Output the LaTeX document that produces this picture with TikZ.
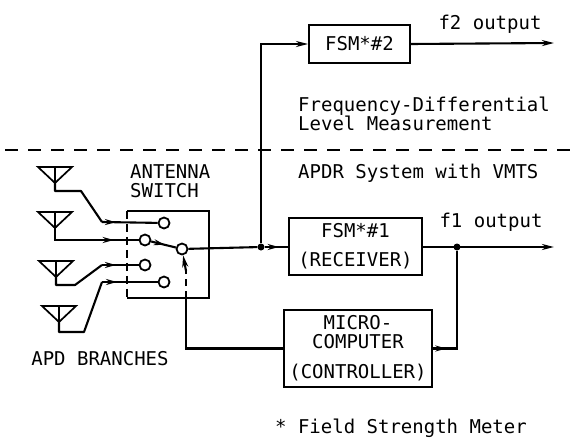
\documentclass[tikz,border=0pt]{standalone}
\usepackage{fontspec}
\setmonofont{DejaVu Sans Mono}
\usetikzlibrary{decorations.markings, arrows.meta}

\tikzset{
  wire/.style={line width=2.1pt},
  thinwire/.style={line width=1.7pt},
  label/.style={font=\ttfamily\fontsize{19}{19}\selectfont, inner sep=0pt, align=center},
  blockbox/.style={draw, line width=1.9pt, font=\ttfamily\fontsize{19}{19}\selectfont, inner sep=0pt, align=center},
  contact/.style={draw, circle, line width=1.8pt, fill=white, minimum size=11pt, inner sep=0pt},
  dot/.style={circle, fill=black, minimum size=7pt, inner sep=0pt},
  midarrow/.style={postaction=decorate, decoration={markings, mark=at position #1 with {\arrow{Stealth[length=11pt,width=6pt]}}}},
  endarrow/.style={-{Stealth[length=12pt,width=6pt]}}
}

\begin{document}
\begin{tikzpicture}[x=1pt, y=-1pt]
      \useasboundingbox (0,0) rectangle (579,439);

      % blocks
      \node[blockbox, minimum width=101pt, minimum height=38pt] (fsm2) at (359.5,44) {FSM*\#2};
      \node[blockbox, minimum width=133pt, minimum height=57pt] (fsm1) at (355.5,246.5) {FSM*\#1\\[10pt](RECEIVER)};
      \node[blockbox, minimum width=148pt, minimum height=77pt] (mc) at (358,348.5) {MICRO-\\COMPUTER\\[11pt](CONTROLLER)};

      % separating line
      \coordinate (sepl) at (5,150);
      \coordinate (sepr) at (579,150);
      \draw[thinwire, dash pattern=on 13pt off 10pt] (sepl) -- (sepr);

      % antenna switch
      \node[minimum width=82pt, minimum height=87pt, inner sep=0pt] (sw) at (168,254.5) {};
      \draw[thinwire] (sw.south west) -- (sw.south east) -- (sw.north east) -- (sw.north west);
      \draw[thinwire, dash pattern=on 8pt off 5pt] (sw.north west) -- (sw.south west);

      % antennas
      \foreach \n/\x/\y in {1/55/183, 2/55/228, 3/56/277, 4/59/322} {
        \coordinate (ant\n) at (\x,\y);
        \draw[thinwire] (ant\n) -- ++(-17,-16) -- ++(34,0) -- cycle;
        \draw[thinwire] (ant\n) -- ++(0,-16);
      }

      % contacts
      \node[contact] (c1) at (164,223) {};
      \node[contact] (c2) at (145,240) {};
      \node[contact] (c3) at (145,265) {};
      \node[contact] (c4) at (164,282) {};
      \node[contact] (pole) at (182,249) {};

      \coordinate (b1) at (81,191);
      \coordinate (b1e) at (102,222);
      \coordinate (b3) at (75,285);
      \coordinate (b3e) at (102,265);
      \coordinate (b4) at (84,332);
      \coordinate (b4e) at (102,282);
      \draw[wire, line join=round] (ant1) -- (55,191) -- (b1) -- (b1e);
      \draw[wire, midarrow=0.74] (ant2) -- (55,240) -- (c2);
      \draw[wire, line join=round] (ant3) -- (56,285) -- (b3) -- (b3e);
      \draw[wire, line join=round] (ant4) -- (59,332) -- (b4) -- (b4e);
      \draw[wire, midarrow=0.25] (b1e) -- (c1);
      \draw[wire, midarrow=0.38] (b3e) -- (c3);
      \draw[wire, midarrow=0.27] (b4e) -- (c4);
      \draw[wire, midarrow=0.55] (c2) -- (pole);

      % receiver path
      \node[dot] (j1) at (261,247) {};
      \draw[wire] (pole) -- (j1);
      \draw[wire, midarrow=0.6] (j1) -- (fsm1.west |- j1);
      \draw[wire, endarrow] (j1) -- (j1 |- fsm2) -- (fsm2.west);
      \draw[wire, endarrow] (fsm2.east) -- ++(143,-1) coordinate (f2out);
      \node[dot] (j2) at (457,247) {};
      \draw[wire, endarrow] (fsm1.east |- j2) -- ++(131,0) coordinate (f1out);

      % controller path
      \coordinate (ctl) at (186,298);
      \coordinate (ctlup) at (186,271);
      \draw[wire] (mc.west) -- (ctl |- mc) -- (ctl);
      \draw[wire, midarrow=0.11] (mc.east) -- (j2 |- mc) -- (j2);
      \draw[thinwire, dash pattern=on 7pt off 5pt] (ctl) -- (ctlup);
      \draw[wire, endarrow] (ctlup) -- (pole);

      % texts
      \node[label] (f2lab) at (490,24) {f2 output};
      \node[label] (f1lab) at (491,222) {f1 output};
      \node[label, anchor=west, align=left] (fdlab) at (298,113.5) {Frequency-Differential\\Level Measurement};
      \node[label, anchor=west] (apdr) at (298,173) {APDR System with VMTS};
      \node[label, anchor=west, align=left] (swlab) at (130,181) {ANTENNA\\SWITCH};
      \node[label] (apd) at (100,359) {APD BRANCHES};
      \node[label] (fsmnote) at (401,428) {* Field Strength Meter};
    \end{tikzpicture}
\end{document}
